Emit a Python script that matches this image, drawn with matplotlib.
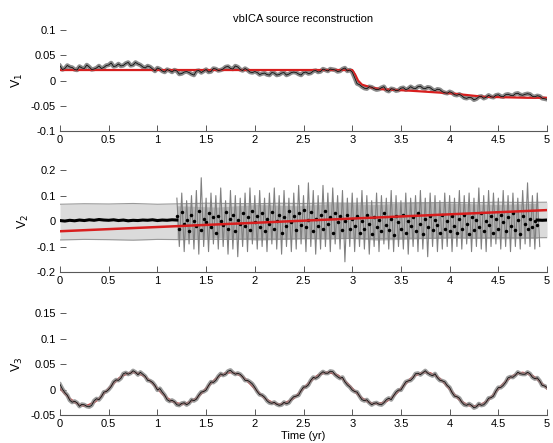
import numpy as np
import matplotlib
matplotlib.use('Agg')
import matplotlib.pyplot as plt
from matplotlib.ticker import FormatStrFormatter

plt.rcParams['font.family'] = ['Liberation Sans', 'DejaVu Sans']
plt.rcParams['axes.unicode_minus'] = False

## ---- V1 : offset (step near t=3) ----
t_v1 = np.linspace(0, 5, 101)
v1_obs = [0.029, 0.024, 0.027, 0.022, 0.028, 0.024, 0.027, 0.023, 0.029, 0.026,
          0.031, 0.028, 0.033, 0.030, 0.036, 0.031, 0.033, 0.027, 0.029, 0.023,
          0.025, 0.019, 0.022, 0.017, 0.019, 0.014, 0.018, 0.013, 0.019, 0.016,
          0.022, 0.018, 0.023, 0.021, 0.027, 0.024, 0.029, 0.022, 0.024, 0.017,
          0.018, 0.012, 0.015, 0.011, 0.015, 0.012, 0.016, 0.013, 0.017, 0.013,
          0.016, 0.014, 0.019, 0.017, 0.023, 0.019, 0.022, 0.018, 0.023, 0.019,
          0.017, -0.006, -0.012, -0.016, -0.013, -0.018, -0.014, -0.019, -0.016, -0.020,
          -0.015, -0.018, -0.012, -0.016, -0.011, -0.016, -0.014, -0.020, -0.018, -0.024,
          -0.022, -0.028, -0.027, -0.034, -0.033, -0.038, -0.032, -0.035, -0.029, -0.033,
          -0.028, -0.032, -0.027, -0.030, -0.025, -0.029, -0.026, -0.031, -0.030, -0.035,
          -0.037]
# samples half-way between the ones above
v1_obs_mid = [0.022, 0.030, 0.026, 0.021, 0.025, 0.031, 0.022, 0.025, 0.024, 0.030,
              0.035, 0.029, 0.029, 0.034, 0.030, 0.036, 0.031, 0.025, 0.027, 0.019,
              0.023, 0.017, 0.020, 0.021, 0.013, 0.017, 0.016, 0.011, 0.020, 0.019,
              0.017, 0.024, 0.020, 0.023, 0.028, 0.023, 0.027, 0.020, 0.021, 0.016,
              0.016, 0.014, 0.012, 0.016, 0.011, 0.015, 0.011, 0.016, 0.016, 0.011,
              0.017, 0.015, 0.020, 0.018, 0.021, 0.023, 0.021, 0.019, 0.025, 0.021,
              0.006, -0.008, -0.015, -0.012, -0.016, -0.017, -0.012, -0.021, -0.017, -0.019,
              -0.014, -0.016, -0.015, -0.012, -0.015, -0.013, -0.018, -0.017, -0.022, -0.025,
              -0.024, -0.029, -0.030, -0.035, -0.034, -0.036, -0.031, -0.033, -0.032, -0.029,
              -0.031, -0.028, -0.029, -0.026, -0.028, -0.027, -0.027, -0.032, -0.031, -0.036]
t_v1_fit = [0, 3.0, 3.03, 3.06, 3.1, 3.2, 3.3, 3.6, 4.0, 4.35, 4.8, 5.0]
v1_fit = [0.021, 0.021, 0.012, 0.0, -0.008, -0.014, -0.017, -0.020, -0.025, -0.032, -0.034, -0.034]

## ---- V2 : uncertainty band, spiky reconstruction, trend ----
t_band = np.linspace(0, 5, 21)
v2_band_hi = [0.066, 0.068, 0.067, 0.069, 0.066, 0.068, 0.070, 0.069, 0.068, 0.070, 0.069,
              0.071, 0.070, 0.072, 0.071, 0.072, 0.073, 0.072, 0.074, 0.073, 0.074]
v2_band_lo = [-0.074, -0.072, -0.073, -0.075, -0.072, -0.073, -0.071, -0.072, -0.070, -0.071, -0.069,
              -0.070, -0.068, -0.069, -0.067, -0.068, -0.066, -0.067, -0.065, -0.066, -0.065]

t_pre = np.linspace(0, 1.2, 25)
v2_pre = [0.002, 0.0, 0.003, 0.001, 0.004, 0.002, 0.005, 0.003, 0.006, 0.004, 0.003, 0.005, 0.002,
          0.004, 0.001, 0.003, 0.002, 0.004, 0.003, 0.005, 0.002, 0.004, 0.003, 0.005, 0.004]
t_post = [4.9, 4.95, 5.0]
v2_post = [0.004, 0.003, 0.004]

t_spk = np.linspace(1.2, 4.9, 75)
v2_spk_hi = [0.09, 0.11, 0.08, 0.10, 0.12, 0.17, 0.09, 0.11, 0.10, 0.13, 0.08, 0.12, 0.10, 0.09, 0.11, 0.13,
             0.10, 0.12, 0.09, 0.11, 0.13, 0.10, 0.12, 0.09, 0.11, 0.14, 0.10, 0.15, 0.12, 0.10, 0.14, 0.11, 0.13, 0.10, 0.12, 0.09,
             0.11, 0.09, 0.12, 0.10, 0.08, 0.11, 0.10, 0.09, 0.12, 0.10, 0.08, 0.11, 0.09, 0.10, 0.12, 0.09, 0.11, 0.10, 0.08, 0.11,
             0.10, 0.09, 0.12, 0.10, 0.11, 0.09, 0.13, 0.10, 0.12, 0.11, 0.09, 0.12, 0.10, 0.11, 0.09, 0.12, 0.15, 0.10, 0.11]
v2_spk_lo = [-0.10, -0.12, -0.09, -0.11, -0.13, -0.10, -0.12, -0.09, -0.11, -0.10, -0.13, -0.11, -0.14, -0.10, -0.12, -0.09,
             -0.11, -0.10, -0.12, -0.09, -0.11, -0.13, -0.10, -0.12, -0.11, -0.09, -0.12, -0.10, -0.13, -0.11, -0.10, -0.12, -0.09, -0.11, -0.16, -0.10,
             -0.12, -0.10, -0.11, -0.13, -0.10, -0.12, -0.09, -0.11, -0.12, -0.10, -0.11, -0.13, -0.10, -0.12, -0.11, -0.14, -0.10, -0.12, -0.11, -0.10,
             -0.12, -0.10, -0.11, -0.09, -0.12, -0.10, -0.11, -0.12, -0.10, -0.09, -0.11, -0.10, -0.12, -0.10, -0.11, -0.09, -0.10, -0.11, -0.10]
# inner spread of the reconstruction (denser core)
t_core = np.linspace(1.2, 4.9, 10)
v2_core_hi = [0.06, 0.055, 0.065, 0.06, 0.07, 0.065, 0.075, 0.07, 0.065, 0.07]
v2_core_lo = [-0.07, -0.065, -0.075, -0.07, -0.065, -0.075, -0.07, -0.065, -0.07, -0.068]

t_dots = np.linspace(1.2, 4.9, 149)
v2_dots = [0.02, -0.03, 0.035, -0.01, 0.005, -0.04, 0.025, 0.0, -0.02, 0.04, -0.035, 0.01, -0.005, 0.03, -0.025, 0.015, -0.045,
           0.02, 0.0, -0.015, 0.035, -0.03, 0.01, 0.025, -0.04, 0.005, -0.01, 0.03, -0.02, 0.015, -0.035, 0.04, -0.005,
           0.02, -0.025, 0.03, -0.04, 0.01, -0.01, 0.035, -0.03, 0.0, 0.025, -0.045, 0.015, -0.02, 0.04, -0.005, 0.02,
           -0.035, 0.03, -0.015, 0.045, -0.025, 0.005, 0.035, -0.04, 0.01, -0.02, 0.025, -0.03, 0.04, -0.01, 0.015, -0.045,
           0.03, -0.005, 0.02, -0.035, 0.0, 0.025, -0.03, 0.01,
           -0.02, 0.02, -0.045, 0.0, -0.03, 0.025, -0.01, -0.05, 0.015, -0.025, 0.005, -0.04, 0.03, -0.015, -0.035, 0.01,
           -0.055, 0.02, -0.005, -0.03, 0.025, -0.045, 0.0, -0.02, 0.015, -0.04, 0.03, -0.01, -0.05, 0.01, -0.025, 0.02,
           -0.035, 0.005, -0.015, -0.045, 0.025, -0.03, 0.0, -0.04,
           0.02, -0.02, -0.045, 0.01, -0.03, 0.025, -0.01, -0.05, 0.015, -0.035, 0.005, -0.025, 0.03, -0.04, 0.0, -0.015,
           0.02, -0.045, 0.01, -0.03, 0.025, -0.005, -0.04, 0.015, -0.02, 0.03, -0.035, 0.005, -0.05, 0.02, -0.01, -0.03,
           0.01, -0.025, 0.0, -0.015]
t_v2_fit = [0, 5]
v2_fit = [-0.040, 0.043]

## ---- V3 : annual signal ----
t_v3 = np.linspace(0, 5, 101)
v3_fit = [0.003, -0.008, -0.018, -0.025, -0.030, -0.032, -0.030, -0.025, -0.018, -0.008,
          0.002, 0.012, 0.021, 0.028, 0.032, 0.034, 0.032, 0.028, 0.021, 0.012,
          0.002, -0.008, -0.017, -0.023, -0.027, -0.029, -0.027, -0.023, -0.017, -0.008,
          0.002, 0.012, 0.021, 0.028, 0.032, 0.034, 0.032, 0.028, 0.021, 0.012,
          0.002, -0.008, -0.017, -0.023, -0.027, -0.029, -0.027, -0.023, -0.017, -0.008,
          0.002, 0.012, 0.021, 0.028, 0.032, 0.034, 0.032, 0.028, 0.021, 0.012,
          0.002, -0.008, -0.017, -0.023, -0.027, -0.028, -0.027, -0.023, -0.017, -0.008,
          0.002, 0.012, 0.021, 0.028, 0.032, 0.034, 0.032, 0.028, 0.021, 0.012,
          0.001, -0.010, -0.020, -0.027, -0.031, -0.033, -0.031, -0.027, -0.020, -0.010,
          0.001, 0.011, 0.020, 0.027, 0.031, 0.033, 0.031, 0.027, 0.020, 0.011,
          0.002]
v3_obs = [0.010, -0.006, -0.021, -0.023, -0.033, -0.030, -0.034, -0.022, -0.020, -0.005,
          0.000, 0.015, 0.018, 0.031, 0.030, 0.037, 0.029, 0.030, 0.018, 0.014,
          -0.001, -0.005, -0.020, -0.021, -0.030, -0.027, -0.030, -0.020, -0.019, -0.005,
          -0.001, 0.015, 0.018, 0.031, 0.030, 0.038, 0.030, 0.030, 0.018, 0.015,
          0.004, -0.010, -0.015, -0.026, -0.025, -0.031, -0.025, -0.026, -0.014, -0.011,
          0.005, 0.009, 0.024, 0.025, 0.035, 0.032, 0.035, 0.025, 0.024, 0.009,
          -0.001, -0.005, -0.020, -0.020, -0.030, -0.026, -0.030, -0.020, -0.020, -0.005,
          -0.001, 0.015, 0.018, 0.031, 0.029, 0.037, 0.029, 0.031, 0.018, 0.015,
          0.004, -0.013, -0.017, -0.030, -0.028, -0.036, -0.028, -0.030, -0.017, -0.013,
          0.004, 0.008, 0.023, 0.024, 0.034, 0.030, 0.034, 0.024, 0.023, 0.008,
          0.004]
v3_obs_mid = [0.001, -0.011, -0.025, -0.026, -0.029, -0.033, -0.031, -0.018, -0.014, -0.004,
              0.006, 0.019, 0.022, 0.033, 0.032, 0.034, 0.034, 0.026, 0.017, 0.008,
              0.002, -0.011, -0.023, -0.024, -0.031, -0.026, -0.027, -0.022, -0.011, -0.004,
              0.008, 0.014, 0.026, 0.028, 0.036, 0.033, 0.032, 0.025, 0.018, 0.011,
              -0.004, -0.011, -0.022, -0.027, -0.029, -0.030, -0.028, -0.019, -0.013, -0.002,
              0.005, 0.018, 0.022, 0.031, 0.032, 0.036, 0.029, 0.022, 0.015, 0.005,
              -0.004, -0.013, -0.022, -0.026, -0.027, -0.029, -0.026, -0.017, -0.012, -0.001,
              0.007, 0.017, 0.023, 0.032, 0.033, 0.032, 0.027, 0.023, 0.017, 0.008,
              -0.006, -0.014, -0.025, -0.031, -0.031, -0.034, -0.031, -0.025, -0.016, -0.003,
              0.004, 0.014, 0.025, 0.028, 0.031, 0.030, 0.031, 0.021, 0.017, 0.007]


def interleave(t, v, v_mid):
    # merge samples with the half-step samples between them
    t = np.asarray(t)
    tt = np.append(np.ravel(np.column_stack([t[:-1], (t[:-1] + t[1:]) / 2])), t[-1])
    vv = np.append(np.ravel(np.column_stack([v[:-1], v_mid])), v[-1])
    return tt, vv


red = '#d81e1e'

fig = plt.figure(figsize=(5.53, 4.43), dpi=100)
ax1 = fig.add_axes([0.1085, 0.704, 0.8807, 0.228])
ax2 = fig.add_axes([0.1085, 0.386, 0.8807, 0.230])
ax3 = fig.add_axes([0.1085, 0.0632, 0.8807, 0.230])

## V1
t1, s1 = interleave(t_v1, v1_obs, v1_obs_mid)
ax1.plot(t1, s1, color='0.55', lw=3.2)
ax1.plot(t_v1_fit, v1_fit, color=red, lw=1.6)
ax1.plot(t1, s1, color='0.5', lw=1.4, alpha=0.6)
ax1.plot(t1, s1, color='black', lw=0.5)
ax1.set_ylim(-0.1, 0.1)
ax1.set_yticks([-0.1, -0.05, 0, 0.05, 0.1])
ax1.set_ylabel('V$_1$')
ax1.set_title('vbICA source reconstruction', fontsize=8, pad=6)

## V2
ax2.fill_between(t_band, v2_band_lo, v2_band_hi, color='0.86', lw=0)
ax2.plot(t_band, v2_band_hi, color='0.6', lw=0.8)
ax2.plot(t_band, v2_band_lo, color='0.6', lw=0.8)
ax2.fill_between(t_core, v2_core_lo, v2_core_hi, color='0.72', lw=0)
# zig-zag between the spike envelopes
zz_t = np.ravel(np.column_stack([t_spk, t_spk + 0.025]))
zz_v = np.ravel(np.column_stack([v2_spk_hi, v2_spk_lo]))
ax2.plot(zz_t, zz_v, color='0.5', lw=0.8)
ax2.plot(t_pre, v2_pre, color='black', lw=2.2)
ax2.plot(t_post, v2_post, color='black', lw=2.2)
ax2.plot(t_dots, v2_dots, 'k.', ms=3)
ax2.plot(t_v2_fit, v2_fit, color=red, lw=1.8)
ax2.set_ylim(-0.2, 0.2)
ax2.set_yticks([-0.2, -0.1, 0, 0.1, 0.2])
ax2.set_ylabel('V$_2$')

## V3
t3, s3 = interleave(t_v3, v3_obs, v3_obs_mid)
ax3.plot(t_v3, v3_fit, color=red, lw=1.5)
ax3.plot(t3, s3, color='0.55', lw=3.0, alpha=0.85)
ax3.plot(t3, s3, color='black', lw=0.5)
ax3.set_ylim(-0.05, 0.15)
ax3.set_yticks([-0.05, 0, 0.05, 0.1, 0.15])
ax3.set_ylabel('V$_3$')
ax3.set_xlabel('Time (yr)', fontsize=8, labelpad=1)

for ax in (ax1, ax2, ax3):
    ax.set_xlim(0, 5)
    ax.set_xticks(np.arange(0, 5.01, 0.5))
    ax.xaxis.set_major_formatter(FormatStrFormatter('%g'))
    ax.yaxis.set_major_formatter(FormatStrFormatter('%g'))
    for s in ('top', 'right', 'left'):
        ax.spines[s].set_visible(False)
    ax.spines['bottom'].set_color('0.35')
    ax.spines['bottom'].set_linewidth(0.8)
    ax.tick_params(direction='in', length=4, width=0.7, color='0.35', labelsize=8, pad=3)
    ax.yaxis.label.set_size(9)

fig.savefig('out.png', dpi=100)
